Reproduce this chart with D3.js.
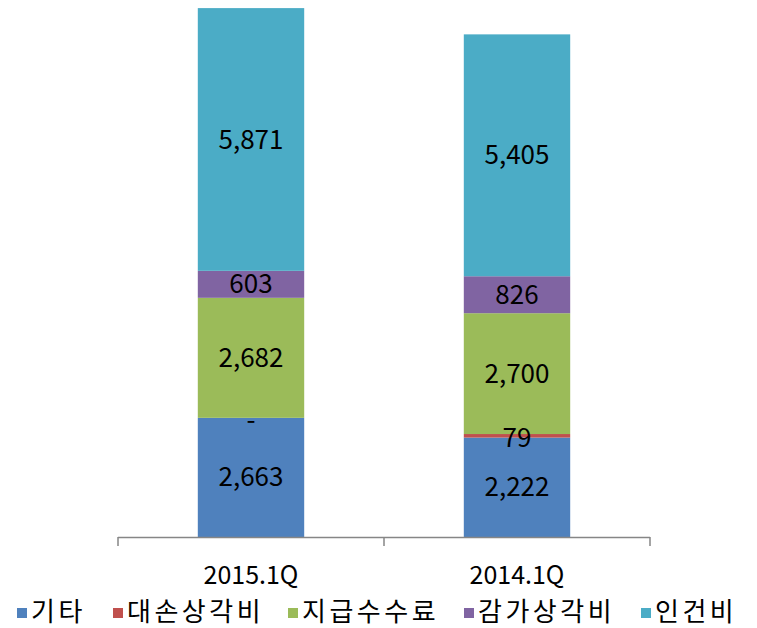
<!DOCTYPE html>
<html>
<head>
<meta charset="utf-8">
<script src="https://cdn.jsdelivr.net/npm/d3@7"></script>
<style>
  body { margin: 0; background: #fff; }
  text { font-family: "Noto Sans CJK KR", "Noto Sans", sans-serif; fill: #000; }
</style>
</head>
<body>
<div id="chart"></div>
<script>
// data
var categories = ["2015.1Q", "2014.1Q"];
var seriesNames = ["기타", "대손상각비", "지급수수료", "감가상각비", "인건비"];
var etc = [2663, 2222];
var badDebt = [0, 79];
var fees = [2682, 2700];
var depreciation = [603, 826];
var labor = [5871, 5405];
var colors = ["#4F81BD", "#C0504D", "#9BBB59", "#8064A2", "#4BACC6"];

var seriesValues = [etc, badDebt, fees, depreciation, labor];
var table = categories.map(function(c, i) {
  var row = { cat: c };
  seriesNames.forEach(function(s, j) { row[s] = seriesValues[j][i]; });
  return row;
});

var width = 757, height = 628;
var svg = d3.select("#chart").append("svg")
  .attr("width", width)
  .attr("height", height);

var x = d3.scaleBand()
  .domain(categories)
  .range([118, 650])
  .paddingInner(0.6)
  .paddingOuter(0.3);

var y = d3.scaleLinear()
  .domain([0, 12000])
  .range([537, 0]);

var stack = d3.stack().keys(seriesNames)(table);

// bars
svg.append("g").selectAll("g")
  .data(stack)
  .enter().append("g")
  .attr("fill", function(d, i) { return colors[i]; })
  .selectAll("rect")
  .data(function(d) { return d; })
  .enter().append("rect")
  .attr("x", function(d) { return x(d.data.cat); })
  .attr("width", x.bandwidth())
  .attr("y", function(d) { return y(d[1]); })
  .attr("height", function(d) { return y(d[0]) - y(d[1]); });

// value labels (drawn on top of all bars)
var points = [];
stack.forEach(function(layer) {
  layer.forEach(function(d) { points.push(d); });
});

svg.append("g").selectAll("text")
  .data(points)
  .enter().append("text")
  .attr("x", function(d) { return x(d.data.cat) + x.bandwidth() / 2; })
  .attr("y", function(d) {
    var v = d[1] - d[0];
    if (v === 0) return y(d[0]) + 4;
    if (v < 300) return y(d[0]) + 2;
    return (y(d[0]) + y(d[1])) / 2 + 2;
  })
  .attr("text-anchor", "middle")
  .attr("dominant-baseline", "middle")
  .style("font-size", "26px")
  .text(function(d) {
    var v = d[1] - d[0];
    return v === 0 ? "-" : d3.format(",")(v);
  });

// x axis
var axis = svg.append("g");
axis.append("line")
  .attr("x1", 118).attr("x2", 650)
  .attr("y1", 537.5).attr("y2", 537.5)
  .attr("stroke", "#868686").attr("stroke-width", 1.5);
var tickPos = [118, 384, 650];
axis.selectAll(".tick")
  .data(tickPos)
  .enter().append("line")
  .attr("x1", function(d) { return d; }).attr("x2", function(d) { return d; })
  .attr("y1", 537).attr("y2", 546)
  .attr("stroke", "#868686").attr("stroke-width", 1.5);

axis.selectAll(".cat")
  .data(categories)
  .enter().append("text")
  .attr("x", function(d) { return x(d) + x.bandwidth() / 2; })
  .attr("y", 577)
  .attr("text-anchor", "middle")
  .attr("dominant-baseline", "middle")
  .style("font-size", "25px")
  .text(function(d) { return d; });

// legend
var legendX = [17, 113, 288, 464, 641];
var legend = svg.append("g").selectAll("g")
  .data(seriesNames)
  .enter().append("g")
  .attr("transform", function(d, i) { return "translate(" + legendX[i] + ",613)"; });

legend.append("rect")
  .attr("x", 0).attr("y", -5)
  .attr("width", 10).attr("height", 10)
  .attr("fill", function(d, i) { return colors[i]; });

legend.append("text")
  .attr("x", 14)
  .attr("y", 1)
  .attr("dominant-baseline", "middle")
  .style("font-size", "26px")
  .style("letter-spacing", "3.5px")
  .text(function(d) { return d; });
</script>
</body>
</html>
